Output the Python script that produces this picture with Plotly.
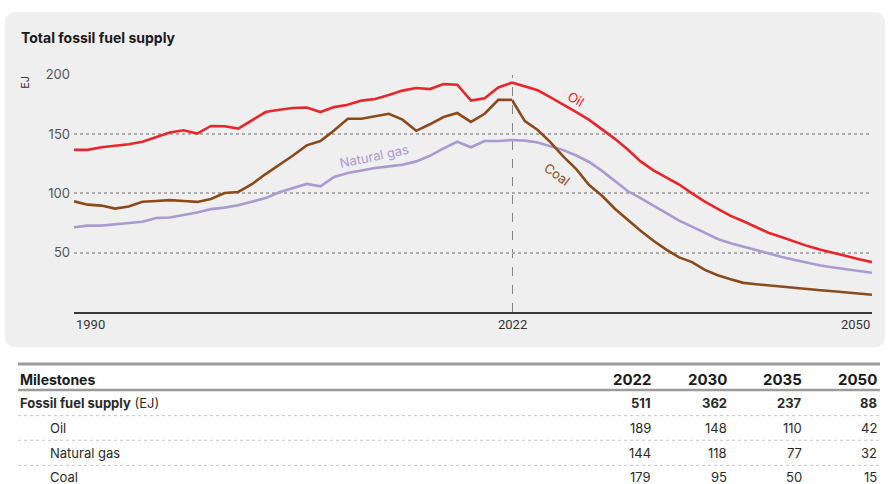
import plotly.graph_objects as go

# ---------------- data ----------------
hist_years = list(range(1990, 2023))
proj_years = list(range(2022, 2051))

oil_hist = [136.7, 136.7, 138.9, 140.0, 141.5, 143.6, 147.8, 151.4, 153.3, 150.5,
            156.9, 156.7, 154.7, 161.7, 168.6, 170.6, 172.0, 172.5, 168.6, 172.8,
            174.7, 178.3, 179.7, 183.0, 186.7, 188.9, 188.0, 192.2, 191.7, 178.3,
            180.3, 189.4, 193.5]
coal_hist = [93.3, 90.5, 89.7, 87.2, 89.0, 93.0, 93.6, 94.3, 93.6, 92.8,
             95.3, 100.3, 101.2, 107.7, 116.3, 124.0, 132.0, 140.5, 144.2, 153.0,
             163.0, 163.0, 165.0, 167.2, 162.2, 152.8, 158.3, 164.4, 167.8, 160.3,
             167.2, 178.9, 178.9]
gas_hist = [71.4, 72.8, 72.8, 74.2, 75.0, 76.1, 79.2, 79.7, 81.7, 83.9,
            86.7, 88.0, 90.0, 92.8, 96.0, 101.0, 104.7, 108.0, 106.0, 113.9,
            117.2, 119.4, 121.4, 122.8, 124.2, 127.0, 131.7, 138.0, 143.6, 138.9,
            144.2, 144.2, 145.0]

oil_proj = [193.5, 190.5, 187.0, 181.0, 175.0, 168.5, 162.0, 154.0, 146.0, 137.0,
            127.0, 119.5, 113.5, 107.5, 100.0, 93.0, 87.0, 81.0, 76.5, 71.5,
            66.5, 63.0, 59.0, 55.5, 52.5, 49.7, 47.0, 44.5, 42.0]
gas_proj = [145.0, 144.5, 143.0, 140.0, 136.5, 132.0, 126.5, 119.0, 110.5, 102.0,
            96.0, 89.5, 83.5, 77.0, 72.0, 66.5, 61.5, 58.0, 55.0, 52.0,
            49.0, 46.3, 43.7, 41.3, 39.2, 37.5, 35.8, 34.3, 33.0]
coal_proj = [178.9, 161.0, 153.5, 143.0, 131.0, 120.5, 107.0, 98.0, 87.0, 77.5,
             68.5, 60.0, 52.5, 46.0, 42.0, 35.5, 31.0, 27.5, 24.5, 23.3,
             22.2, 21.2, 20.2, 19.2, 18.3, 17.4, 16.5, 15.4, 14.5]

y_ticks = [50, 100, 150, 200]
x_tick_labels = ["1990", "2022", "2050"]

milestone_years = ["2022", "2030", "2035", "2050"]
row_labels = ["<b>Fossil fuel supply</b> (EJ)", "Oil", "Natural gas", "Coal"]
total_vals = [511, 362, 237, 88]
oil_vals = [189, 148, 110, 42]
gas_vals = [144, 118, 77, 32]
coal_vals = [179, 95, 50, 15]

# ---------------- styling ----------------
W, H = 888, 484
OIL_C = "#e8262b"
COAL_C = "#8b4a1c"
GAS_C = "#a99bcf"
FONT = "Inter"

def px_x(p):
    return p / W

def px_y(p):
    return 1 - p / H

fig = go.Figure()

series = [
    ("Oil", oil_hist, oil_proj, OIL_C),
    ("Natural gas", gas_hist, gas_proj, GAS_C),
    ("Coal", coal_hist, coal_proj, COAL_C),
]
for name, h, p, c in series:
    fig.add_trace(go.Scatter(x=hist_years, y=h, mode="lines", name=name,
                             line=dict(color=c, width=2.6), xaxis="x", yaxis="y",
                             showlegend=False, hoverinfo="skip"))
    fig.add_trace(go.Scatter(x=proj_years, y=p, mode="lines", name=name,
                             line=dict(color=c, width=2.6), xaxis="x2", yaxis="y",
                             showlegend=False, hoverinfo="skip"))

# panel with rounded corners
x0, x1 = px_x(5), px_x(885)
yt, yb = px_y(4), px_y(345)
rx, ry = 12 / W, 12 / H
panel_path = (f"M {x0+rx},{yt} L {x1-rx},{yt} Q {x1},{yt} {x1},{yt-ry} "
              f"L {x1},{yb+ry} Q {x1},{yb} {x1-rx},{yb} L {x0+rx},{yb} "
              f"Q {x0},{yb} {x0},{yb+ry} L {x0},{yt-ry} Q {x0},{yt} {x0+rx},{yt} Z")

shapes = [
    dict(type="path", xref="paper", yref="paper", path=panel_path,
         fillcolor="#efefef", line=dict(width=0), layer="below"),
    dict(type="line", xref="x2", yref="y", x0=2022, x1=2022, y0=0, y1=200,
         line=dict(color="#6b6b6b", width=1.6, dash="dash"), layer="below"),
]

# table lines
tl, tr = px_x(18), px_x(880)
shapes.append(dict(type="line", xref="paper", yref="paper", x0=tl, x1=tr,
                   y0=px_y(362), y1=px_y(362), line=dict(color="#9a9a9a", width=3)))
shapes.append(dict(type="line", xref="paper", yref="paper", x0=tl, x1=tr,
                   y0=px_y(388.5), y1=px_y(388.5), line=dict(color="#9a9a9a", width=2.5)))
for yy in [414.5, 439.5, 465]:
    shapes.append(dict(type="line", xref="paper", yref="paper", x0=tl, x1=tr,
                       y0=px_y(yy), y1=px_y(yy),
                       line=dict(color="#c4c4c4", width=1, dash="dot")))

annotations = [
    dict(text="<b>Total fossil fuel supply</b>", xref="paper", yref="paper",
         x=px_x(19), y=px_y(30), xanchor="left", yanchor="middle", showarrow=False,
         font=dict(family=FONT, size=14, color="#1a1a1a")),
    dict(text="EJ", xref="paper", yref="paper", x=px_x(25), y=px_y(76),
         xanchor="center", yanchor="middle", textangle=-90, showarrow=False,
         font=dict(family=FONT, size=11, color="#333333")),
    dict(text=x_tick_labels[0], xref="x", yref="paper", x=hist_years[0], y=px_y(322),
         xanchor="left", yanchor="middle", showarrow=False,
         font=dict(family="Roboto", size=13, color="#333333")),
    dict(text=x_tick_labels[1], xref="x2", yref="paper", x=proj_years[0], y=px_y(322),
         xanchor="center", yanchor="middle", showarrow=False,
         font=dict(family="Roboto", size=13, color="#333333")),
    dict(text=x_tick_labels[2], xref="x2", yref="paper", x=proj_years[-1], y=px_y(322),
         xanchor="right", yanchor="middle", showarrow=False,
         font=dict(family="Roboto", size=13, color="#333333")),
    # series labels
    dict(text="Oil", xref="x2", yref="y", x=2027.0, y=180, textangle=30,
         showarrow=False, font=dict(family=FONT, size=13, color=OIL_C)),
    dict(text="Coal", xref="x2", yref="y", x=2025.5, y=116, textangle=36,
         showarrow=False, font=dict(family=FONT, size=13, color=COAL_C)),
    dict(text="Natural gas", xref="x", yref="y", x=2011.9, y=131.5, textangle=-12,
         showarrow=False, font=dict(family=FONT, size=13, color=GAS_C)),
]

# table text
col_right = [653, 729, 804, 879]
row_y = [402, 427, 452, 477]
annotations.append(dict(text="<b>Milestones</b>", xref="paper", yref="paper",
                        x=px_x(18), y=px_y(377.5), xanchor="left", yanchor="middle",
                        showarrow=False, font=dict(family=FONT, size=14, color="#1a1a1a")))
for yr, cx in zip(milestone_years, col_right):
    annotations.append(dict(text=f"<b>{yr}</b>", xref="paper", yref="paper",
                            x=px_x(cx), y=px_y(377.5), xanchor="right", yanchor="middle",
                            showarrow=False, font=dict(family=FONT, size=15, color="#1a1a1a")))
label_x = [18, 48, 48, 48]
for lab, lx, ry_ in zip(row_labels, label_x, row_y):
    annotations.append(dict(text=lab, xref="paper", yref="paper", x=px_x(lx), y=px_y(ry_),
                            xanchor="left", yanchor="middle", showarrow=False,
                            font=dict(family=FONT, size=13, color="#2a2a2a")))
rows = [total_vals, oil_vals, gas_vals, coal_vals]
for i, (vals, ry_) in enumerate(zip(rows, row_y)):
    for v, cx in zip(vals, col_right):
        txt = f"<b>{v}</b>" if i == 0 else str(v)
        annotations.append(dict(text=txt, xref="paper", yref="paper", x=px_x(cx), y=px_y(ry_),
                                xanchor="right", yanchor="middle", showarrow=False,
                                font=dict(family=FONT, size=13, color="#2a2a2a")))

axis_common = dict(showgrid=False, showticklabels=False, showline=True,
                   linecolor="#3a3a3a", linewidth=2, ticks="", zeroline=False,
                   fixedrange=True)

fig.update_layout(
    width=W, height=H,
    margin=dict(l=0, r=0, t=0, b=0, pad=0),
    paper_bgcolor="white",
    plot_bgcolor="rgba(0,0,0,0)",
    showlegend=False,
    xaxis=dict(domain=[px_x(74), px_x(512)], range=[1990, 2022], anchor="y", **axis_common),
    xaxis2=dict(domain=[px_x(512), px_x(872)], range=[2022, 2050], anchor="y", **axis_common),
    yaxis=dict(domain=[px_y(309), px_y(68)], range=[0, 200], anchor="x",
               tickvals=y_ticks, ticktext=[str(t) for t in y_ticks],
               showgrid=True, gridcolor="#adadad", griddash="dot", gridwidth=1.5,
               zeroline=False, showline=False, ticks="", ticklabelstandoff=3,
               tickfont=dict(family=FONT, size=13, color="#555555"), fixedrange=True),
    shapes=shapes,
    annotations=annotations,
)

post = ("document.body.style.margin='0';document.body.style.overflow='hidden';"
        "var d=document.getElementById('{plot_id}');"
        "d.style.position='fixed';d.style.left='0px';d.style.top='0px';")
fig.write_html("out.html", config={"displayModeBar": False}, post_script=post)
